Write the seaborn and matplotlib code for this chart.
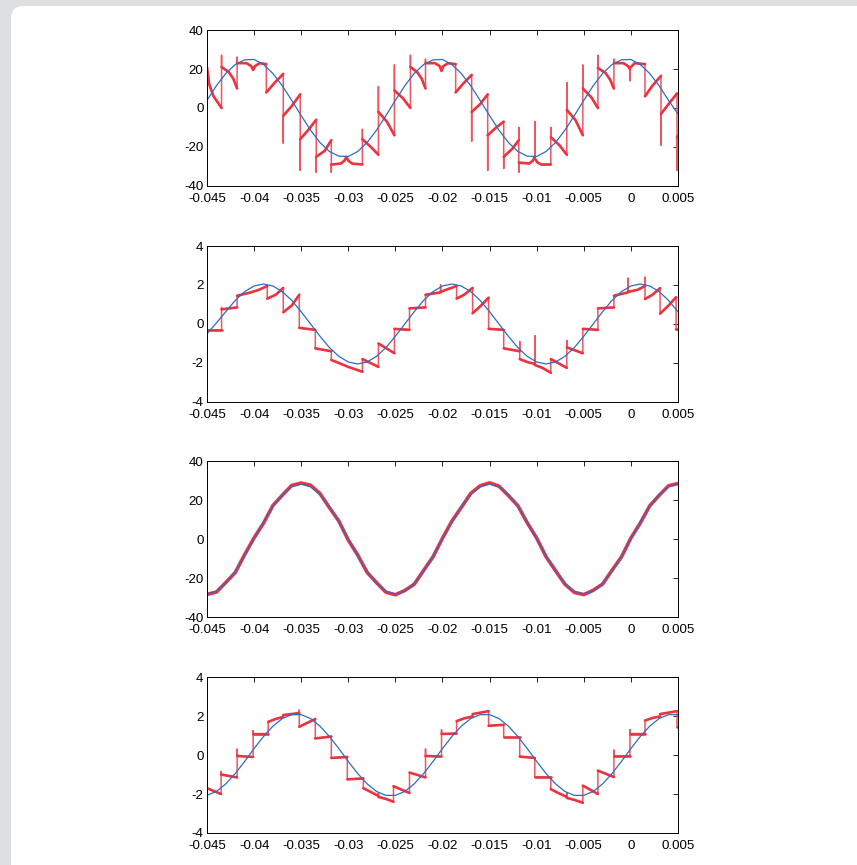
import numpy as np
import pandas as pd
import matplotlib
matplotlib.use("Agg")
import matplotlib.pyplot as plt
from matplotlib.patches import FancyBboxPatch
from matplotlib.transforms import IdentityTransform
import seaborn as sns

sns.set_style("white")
plt.rcParams["font.family"] = ["Liberation Sans", "DejaVu Sans"]
plt.rcParams["axes.unicode_minus"] = False

RED = "#ee3340"
RED_THIN = "#f05560"
BLUE = "#2e6dbf"

# sample times of the smooth (blue) traces, one every 1 ms
t = np.linspace(-0.045, 0.005, 51)

xticks = [-0.045, -0.04, -0.035, -0.03, -0.025, -0.02, -0.015, -0.01, -0.005, 0, 0.005]
xtick_labels = ["-0.045", "-0.04", "-0.035", "-0.03", "-0.025", "-0.02", "-0.015",
                "-0.01", "-0.005", "0", "0.005"]
yticks_big = [-40, -20, 0, 20, 40]
yticks_small = [-4, -2, 0, 2, 4]

# panel 1 - smooth reference and stepped red waveform
blue1 = [3.9, 11.4, 17.7, 22.3, 24.7, 24.9, 22.3, 17.7, 11.4, 3.9,
         -3.9, -11.4, -17.7, -22.3, -24.7, -24.9, -22.3, -17.7, -11.4, -3.9,
         3.9, 11.4, 17.7, 22.3, 24.7, 24.9, 22.3, 17.7, 11.4, 3.9,
         -3.9, -11.4, -17.7, -22.3, -24.7, -24.9, -22.3, -17.7, -11.4, -3.9,
         3.9, 11.4, 17.7, 22.3, 24.7, 24.9, 22.3, 17.7, 11.4, 3.9, -3.0]
red1_x = [-0.0450, -0.04475, -0.0443, -0.04345,
          -0.04345, -0.04345, -0.0427, -0.0422, -0.0418,
          -0.0418, -0.0418, -0.0408, -0.0403, -0.0401, -0.0399, -0.0394, -0.0387,
          -0.0387, -0.0378, -0.0369,
          -0.0369, -0.0369, -0.0360, -0.0351,
          -0.0351, -0.0351, -0.0342, -0.0334,
          -0.0334, -0.0334, -0.0325, -0.0318,
          -0.0318, -0.0318, -0.0308, -0.0304, -0.0302, -0.0300, -0.0296, -0.0285,
          -0.0285, -0.0285, -0.0276, -0.0268,
          -0.0268, -0.0268, -0.0259, -0.0251,
          -0.0251, -0.0251, -0.0242, -0.0234,
          -0.0234, -0.0234, -0.0227, -0.0222, -0.0218,
          -0.0218, -0.0218, -0.0208, -0.0203, -0.0201, -0.0199, -0.0194, -0.0186,
          -0.0186, -0.0178, -0.0169,
          -0.0169, -0.0169, -0.0160, -0.0152,
          -0.0152, -0.0152, -0.0143, -0.0135,
          -0.0135, -0.0135, -0.0126, -0.0119,
          -0.0119, -0.0119, -0.0119, -0.0108, -0.0104, -0.0102, -0.0102, -0.0102, -0.0099, -0.0095, -0.0085,
          -0.0085, -0.0085, -0.0076, -0.0068,
          -0.0068, -0.0068, -0.0059, -0.0051,
          -0.0051, -0.0051, -0.0042, -0.0035,
          -0.0035, -0.0035, -0.0027, -0.0022, -0.0018,
          -0.0018, -0.0018, -0.0008, -0.0003, -0.0001, -0.0001, -0.0001, 0.0004, 0.0015,
          0.0015, 0.0023, 0.0032,
          0.0032, 0.0032, 0.0040, 0.0049,
          0.0049, 0.0049, 0.0052]
red1_y = [21, 12, 6, 0,
          27, 21, 18.5, 15, 10,
          26, 23, 23, 21.5, 19.5, 21.5, 23, 22.5,
          8, 13, 17.5,
          -18, -4, 1, 7,
          -32, -16, -11, -6,
          -33, -25, -22, -16.5,
          -33, -29, -28.5, -27, -25, -27, -28.5, -29,
          -11, -16, -20, -24,
          11, -2, -7, -14,
          22, 9, 5, 0,
          27, 21, 18.5, 15, 10,
          25, 23, 23, 21.5, 19, 21.5, 23, 22.5,
          8, 12.5, 17,
          -17, -2, 2, 7,
          -32, -14, -10, -7,
          -31, -25, -21, -16.5,
          -10, -33, -28, -28.5, -27, -25, -7, -26, -28, -29, -29,
          -10, -15, -19, -24,
          13, -1, -6, -14,
          22, 10, 5.5, 0,
          27, 20.5, 18, 14.5, 10,
          25, 23, 23, 21.5, 20, 14, 20.5, 23, 22.5,
          6, 11.5, 16.5,
          -19, -3, 2, 7.5,
          -32, -15, -13]

# panel 2
blue2 = [-0.5, 0.05, 0.63, 1.21, 1.66, 1.95, 2.05, 1.95, 1.66, 1.21,
         0.63, 0, -0.63, -1.21, -1.66, -1.95, -2.05, -1.95, -1.66, -1.21,
         -0.63, 0, 0.63, 1.21, 1.66, 1.95, 2.05, 1.95, 1.66, 1.21,
         0.63, 0, -0.63, -1.21, -1.66, -1.95, -2.05, -1.95, -1.66, -1.21,
         -0.63, 0, 0.63, 1.21, 1.66, 1.95, 2.05, 1.95, 1.66, 1.21, 0.63]
red2_x = [-0.0450, -0.04345,
          -0.04345, -0.04345, -0.0418,
          -0.0418, -0.0405, -0.0395, -0.0386,
          -0.0386, -0.0377, -0.0369,
          -0.0369, -0.0360, -0.0352,
          -0.0352, -0.0335,
          -0.0335, -0.0318,
          -0.0318, -0.0310, -0.0300, -0.0285,
          -0.0285, -0.0268,
          -0.0268, -0.0251,
          -0.0251, -0.0235,
          -0.0235, -0.0218,
          -0.0218, -0.0202, -0.0202, -0.0202, -0.0185,
          -0.0185, -0.0177, -0.0168,
          -0.0168, -0.0160, -0.0151,
          -0.0151, -0.0135,
          -0.0135, -0.0118,
          -0.0118, -0.0118, -0.0110, -0.0102, -0.0102, -0.0102, -0.0094, -0.0085,
          -0.0085, -0.0068,
          -0.0068, -0.0068, -0.0051,
          -0.0051, -0.0035,
          -0.0035, -0.0018,
          -0.0018, -0.0003, -0.0003, -0.0003, 0.0007, 0.0015, 0.0015, 0.0015,
          0.0023, 0.0031,
          0.0031, 0.0040, 0.0048,
          0.0048, 0.0052]
red2_y = [-0.3, -0.3,
          0.85, 0.75, 0.85,
          1.45, 1.6, 1.75, 1.95,
          1.3, 1.5, 1.85,
          0.6, 0.95, 1.5,
          -0.2, -0.3,
          -1.25, -1.4,
          -1.85, -2.0, -2.2, -2.45,
          -1.8, -2.2,
          -1.0, -1.5,
          -0.25, -0.3,
          0.8, 0.85,
          1.5, 1.62, 2.0, 1.65, 1.95,
          1.3, 1.5, 1.85,
          0.55, 0.9, 1.35,
          -0.25, -0.3,
          -1.25, -1.4,
          -0.9, -1.8, -1.95, -2.05, -0.6, -2.1, -2.25, -2.5,
          -1.8, -2.25,
          -0.85, -1.2, -1.5,
          -0.25, -0.3,
          0.8, 0.85,
          1.45, 1.62, 2.35, 1.65, 1.75, 1.95, 2.4, 1.28,
          1.5, 1.84,
          0.53, 0.95, 1.37,
          -0.28, -0.3]

# panel 3 - both traces nearly identical sinusoids
blue3 = [-28.2, -26.8, -22.8, -16.6, -8.7, 0, 8.7, 16.6, 22.8, 26.8,
         28.2, 26.8, 22.8, 16.6, 8.7, 0, -8.7, -16.6, -22.8, -26.8,
         -28.2, -26.8, -22.8, -16.6, -8.7, 0, 8.7, 16.6, 22.8, 26.8,
         28.2, 26.8, 22.8, 16.6, 8.7, 0, -8.7, -16.6, -22.8, -26.8,
         -28.2, -26.8, -22.8, -16.6, -8.7, 0, 8.7, 16.6, 22.8, 26.8, 28.2]
red3 = [-28.4, -27.2, -22.3, -17.2, -8.0, 0.6, 8.1, 17.2, 22.5, 27.5,
        28.7, 27.6, 23.3, 16.1, 9.2, -0.5, -8.2, -17.1, -22.4, -27.3,
        -28.6, -26.4, -23.2, -16.1, -9.1, 0.4, 9.2, 16.2, 23.4, 27.3,
        28.8, 27.1, 22.3, 17.1, 8.3, 0.5, -9.1, -16.2, -23.2, -27.4,
        -28.5, -26.3, -23.1, -16.0, -9.2, 0.5, 8.2, 17.0, 22.4, 27.3, 28.5]

# panel 4
blue4 = [-2.07, -1.87, -1.48, -0.95, -0.33, 0.33, 0.95, 1.48, 1.87, 2.07,
         2.07, 1.87, 1.48, 0.95, 0.33, -0.33, -0.95, -1.48, -1.87, -2.07,
         -2.07, -1.87, -1.48, -0.95, -0.33, 0.33, 0.95, 1.48, 1.87, 2.07,
         2.07, 1.87, 1.48, 0.95, 0.33, -0.33, -0.95, -1.48, -1.87, -2.07,
         -2.07, -1.87, -1.48, -0.95, -0.33, 0.33, 0.95, 1.48, 1.87, 2.07, 2.07]
red4_x = [-0.0450, -0.0435,
          -0.0435, -0.0435, -0.0418,
          -0.0418, -0.0418, -0.0401,
          -0.0401, -0.0401, -0.0385,
          -0.0385, -0.0377, -0.0369,
          -0.0369, -0.0352,
          -0.0352, -0.0352, -0.0335,
          -0.0335, -0.0318,
          -0.0318, -0.0301,
          -0.0301, -0.0284,
          -0.0284, -0.0276, -0.0268, -0.0268, -0.0268, -0.0260, -0.0252,
          -0.0252, -0.0235,
          -0.0235, -0.0218,
          -0.0218, -0.0218, -0.0201,
          -0.0201, -0.0201, -0.0185,
          -0.0185, -0.0177, -0.0168,
          -0.0168, -0.0151,
          -0.0151, -0.0135,
          -0.0135, -0.0118,
          -0.0118, -0.0102,
          -0.0102, -0.0085,
          -0.0085, -0.0077, -0.0068, -0.0068, -0.0068, -0.0060, -0.0051,
          -0.0051, -0.0035,
          -0.0035, -0.0018,
          -0.0018, -0.0018, -0.0001,
          -0.0001, -0.0001, 0.0015,
          0.0015, 0.0023, 0.0031,
          0.0031, 0.0049,
          0.0049, 0.0052]
red4_y = [-1.7, -2.0,
          -0.85, -1.0, -1.15,
          0.3, -0.05, -0.1,
          1.25, 1.1, 1.1,
          1.7, 1.85, 1.95,
          2.05, 2.15,
          2.3, 1.45, 1.85,
          0.85, 0.95,
          -0.15, -0.1,
          -1.25, -1.2,
          -1.7, -1.9, -2.1, -1.95, -2.15, -2.25, -2.4,
          -1.6, -1.95,
          -0.9, -1.15,
          0.3, -0.05, -0.08,
          1.29, 1.08, 1.1,
          1.74, 1.88, 1.98,
          2.1, 2.25,
          1.5, 1.55,
          0.9, 0.9,
          -0.08, -0.15,
          -1.13, -1.13,
          -1.75, -1.95, -2.15, -1.95, -2.2, -2.3, -2.45,
          -1.57, -2.0,
          -0.8, -1.13,
          0.25, -0.05, -0.05,
          1.29, 1.1, 1.1,
          1.77, 1.9, 1.98,
          2.1, 2.25,
          1.45, 1.45]


def flat_parts(xs, ys):
    # split the stepped trace into its non-vertical stretches (drawn thicker)
    rows, cur, seg = [], [], 0
    for i in range(len(xs) - 1):
        if xs[i + 1] != xs[i]:
            if not cur:
                cur = [(xs[i], ys[i])]
            cur.append((xs[i + 1], ys[i + 1]))
        elif cur:
            rows += [(a, b, seg) for a, b in cur]
            seg += 1
            cur = []
    if cur:
        rows += [(a, b, seg) for a, b in cur]
    return pd.DataFrame(rows, columns=["x", "y", "seg"])


fig = plt.figure(figsize=(8.57, 8.65), dpi=100)
fig.patch.set_facecolor("#dedfe1")
panel = FancyBboxPatch((11, -30), 900, 889, boxstyle="round,pad=0,rounding_size=13",
                       transform=IdentityTransform(), facecolor="white", edgecolor="none",
                       zorder=-10)
fig.add_artist(panel)

bottoms = [0.785, 0.5353, 0.2867, 0.037]
panels = [
    (red1_x, red1_y, blue1, (-40, 40), yticks_big),
    (red2_x, red2_y, blue2, (-4, 4), yticks_small),
    (None, red3, blue3, (-40, 40), yticks_big),
    (red4_x, red4_y, blue4, (-4, 4), yticks_small),
]

for b, (rx, ry, bl, ylim, yt) in zip(bottoms, panels):
    ax = fig.add_axes([0.2415, b, 0.5496, 0.1803])
    ax.set_zorder(1)
    if rx is None:
        sns.lineplot(x=t, y=ry, ax=ax, color=RED, lw=2.6, estimator=None, sort=False)
    else:
        sns.lineplot(x=rx, y=ry, ax=ax, color=RED_THIN, lw=1.1, estimator=None, sort=False)
        sns.lineplot(data=flat_parts(rx, ry), x="x", y="y", units="seg", ax=ax,
                     color=RED, lw=1.9, estimator=None, sort=False, legend=False)
    sns.lineplot(x=t, y=bl, ax=ax, color=BLUE, lw=0.9, estimator=None, sort=False)
    ax.set_xlim(-0.045, 0.005)
    ax.set_ylim(*ylim)
    ax.set_xticks(xticks)
    ax.set_xticklabels(xtick_labels)
    ax.set_yticks(yt)
    ax.set_yticklabels([str(v) for v in yt])
    ax.set_xlabel("")
    ax.set_ylabel("")
    ax.tick_params(direction="in", top=True, right=True, length=3.6, width=0.6,
                   labelsize=9.6, colors="black")
    ax.tick_params(axis="x", pad=4.8)
    ax.tick_params(axis="y", pad=2.5)
    for s in ax.spines.values():
        s.set_visible(True)
        s.set_linewidth(0.7)
        s.set_color("black")
    ax.set_facecolor("white")

fig.savefig("out.png", dpi=100)
